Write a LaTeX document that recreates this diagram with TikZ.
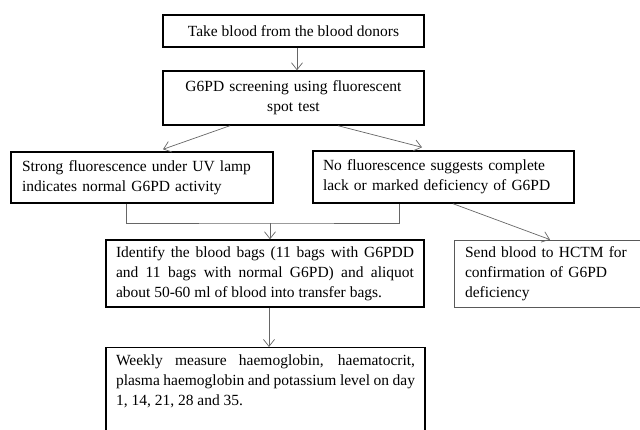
\documentclass[tikz,border=0pt]{standalone}
\usepackage{fontspec}
\setmainfont{Liberation Serif}
\usetikzlibrary{arrows.meta}

\begin{document}
\begin{tikzpicture}[x=1pt, y=-1pt,
  box/.style={draw=black, line width=1.4pt, inner ysep=0pt, font=\fontsize{15.5}{20}\selectfont},
  arr/.style={draw=gray!80!black, line width=0.7pt, -{Straight Barb[length=7pt,width=11pt]}},
  link/.style={draw=gray!80!black, line width=0.7pt}]
\useasboundingbox (0,0) rectangle (640,429);
\clip (0,0) rectangle (640,429);

% Screening steps
\node[box, minimum width=261, minimum height=32, inner xsep=0pt] (take) at (293.5,31) {Take blood from the blood donors};
\node[box, minimum height=54, text width=239, inner xsep=11, align=center] (screen) at (293.5,98) {G6PD screening using fluorescent\\spot test};

% Results of the spot test
\node[box, minimum height=51, text width=240, inner xsep=11, align=left] (normal) at (142,177.5) {Strong fluorescence under UV lamp\\indicates normal G6PD activity};
\node[box, minimum height=52, text width=241, inner xsep=10, align=left] (deficient) at (443.5,177) {No fluorescence suggests complete\\lack or marked deficiency of G6PD};

% Blood bags
\node[box, minimum height=67, text width=298, inner xsep=10, align=justify] (bags) at (265,273.5) {Identify the blood bags (11 bags with G6PDD\linebreak and 11 bags with normal G6PD) and aliquot\linebreak about 50-60 ml of blood into transfer bags.};
\node[box, draw=gray!70!black, line width=0.8pt, minimum height=67, text width=170, inner xsep=11, align=left] (hctm) at (550,273.5) {Send blood to HCTM for\\confirmation of G6PD\\deficiency};
\node[box, anchor=north, text width=299, inner xsep=10, inner ysep=7, align=justify] (measure) at (265.5,347) {Weekly measure haemoglobin, haematocrit,\linebreak plasma haemoglobin and potassium level on day\linebreak 1, 14, 21, 28 and 35.\par\rule{0pt}{40pt}};

% Connectors
\draw[arr] ([xshift=3.5]take.south) -- ([xshift=3.5]screen.north);
\draw[arr] ([xshift=-63.5]screen.south) -- ([xshift=21,yshift=2]normal.north);
\draw[arr] ([xshift=44.5]screen.south) -- ([xshift=-21.5,yshift=3]deficient.north);
\coordinate (join) at (270,223);
\draw[link] ([xshift=-16]normal.south) |- (join) -| ([xshift=-44.5]deficient.south);
\draw[arr] (join) -- (join |- bags.north);
\draw[arr] ([xshift=9.5]deficient.south) -- (hctm.north);
\draw[arr] ([xshift=4]bags.south) -- ([xshift=4]bags.south |- measure.north);
\end{tikzpicture}
\end{document}
